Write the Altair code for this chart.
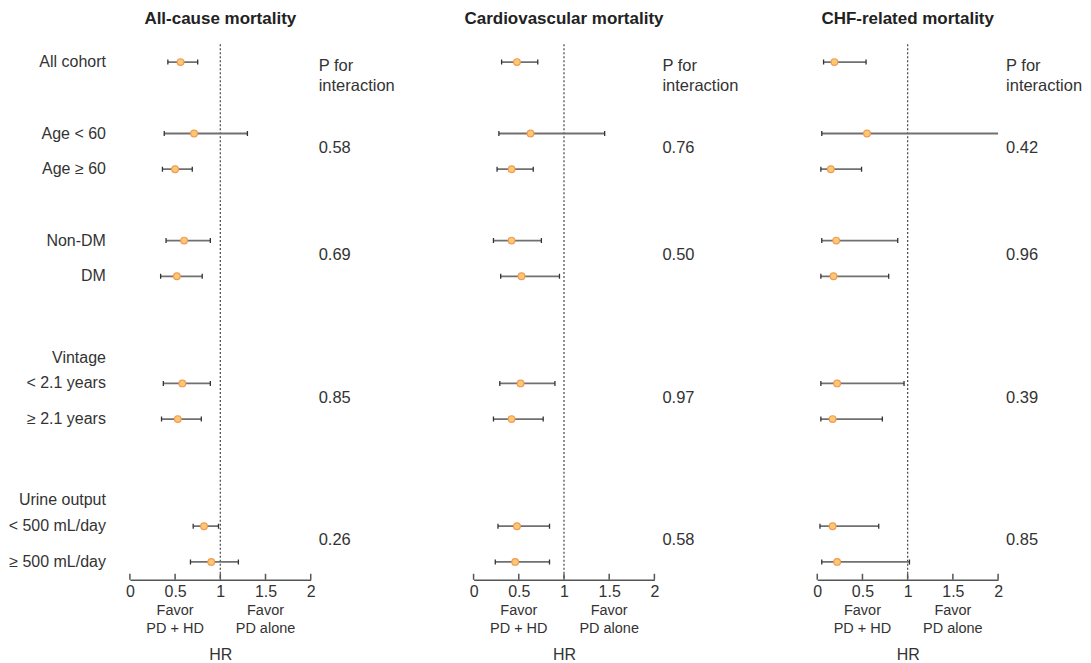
import altair as alt
import pandas as pd

FONT = "Liberation Sans"

titles = ["All-cause mortality", "Cardiovascular mortality", "CHF-related mortality"]

row_labels = ["All cohort", "Age < 60", "Age ≥ 60", "Non-DM", "DM",
              "< 2.1 years", "≥ 2.1 years", "< 500 mL/day", "≥ 500 mL/day"]
row_pos = [0, 2, 3, 5, 6, 9, 10, 13, 14]
header_labels = ["Vintage", "Urine output"]
header_pos = [8.3, 12.27]

hr_all = [0.56, 0.71, 0.50, 0.60, 0.52, 0.58, 0.53, 0.82, 0.90]
lo_all = [0.42, 0.38, 0.36, 0.40, 0.34, 0.37, 0.35, 0.70, 0.67]
hi_all = [0.75, 1.30, 0.69, 0.89, 0.80, 0.89, 0.79, 0.98, 1.20]

hr_cv = [0.48, 0.63, 0.42, 0.42, 0.53, 0.52, 0.42, 0.48, 0.46]
lo_cv = [0.31, 0.28, 0.26, 0.22, 0.30, 0.29, 0.22, 0.27, 0.24]
hi_cv = [0.71, 1.45, 0.66, 0.75, 0.95, 0.90, 0.77, 0.84, 0.84]

hr_chf = [0.19, 0.55, 0.15, 0.21, 0.18, 0.22, 0.17, 0.17, 0.22]
lo_chf = [0.07, 0.05, 0.04, 0.05, 0.04, 0.04, 0.04, 0.03, 0.05]
hi_chf = [0.54, 2.60, 0.49, 0.89, 0.79, 0.96, 0.72, 0.68, 1.02]

p_all = ["0.58", "0.69", "0.85", "0.26"]
p_cv = ["0.76", "0.50", "0.97", "0.58"]
p_chf = ["0.42", "0.96", "0.39", "0.85"]
p_pos = [2.4, 5.4, 9.4, 13.4]

x_ticks = [0, 0.5, 1, 1.5, 2]
favor_x = [0.5, 1.5]
favor_text = ["Favor\nPD + HD", "Favor\nPD alone"]

W, H = 181, 536
TXT = "#333333"


def panel(title, hr, lo, hi, pvals, first):
    df = pd.DataFrame({"label": row_labels, "pos": row_pos, "hr": hr, "lo": lo, "hi": hi})
    xs = alt.Scale(domain=[0, 2], nice=False, zero=False)
    ys = alt.Scale(domain=[-0.5, 14.5], reverse=True, nice=False, zero=False)
    x_axis = alt.Axis(values=x_ticks, format="~g", tickSize=0, labelPadding=4,
                      labelFontSize=16, labelColor=TXT, labelFlush=False,
                      domainColor="#555555", domainWidth=1.5, grid=False,
                      title="HR", titleFontSize=16, titleFontWeight="normal",
                      titleColor=TXT, titleY=75, titleBaseline="middle")
    base = alt.Chart(df)
    ci = base.mark_rule(color="#707070", strokeWidth=1.8, clip=True).encode(
        x=alt.X("lo:Q", scale=xs, axis=x_axis),
        x2="hi:Q",
        y=alt.Y("pos:Q", scale=ys, axis=None),
    )
    cap_lo = base.mark_rule(color="#333333", strokeWidth=1.3, clip=True,
                            yOffset=-2.5, y2Offset=2.5).encode(
        x="lo:Q", y="pos:Q", y2="pos:Q")
    cap_hi = base.mark_rule(color="#333333", strokeWidth=1.3, clip=True,
                            yOffset=-2.5, y2Offset=2.5).encode(
        x="hi:Q", y="pos:Q", y2="pos:Q")
    ref = alt.Chart(pd.DataFrame({"v": [1]})).mark_rule(
        strokeDash=[2, 2], color="#444444", strokeWidth=1.2).encode(x="v:Q")
    pts = base.mark_circle(size=45, fill="#FCC870", stroke="#F19A58",
                           strokeWidth=1.2, opacity=1).encode(x="hr:Q", y="pos:Q")
    ticks = alt.Chart(pd.DataFrame({"t": x_ticks})).mark_rule(
        color="#555555", strokeWidth=1.5, y2Offset=-6).encode(
        x="t:Q", y=alt.datum(14.5), y2=alt.datum(14.5))
    favor = alt.Chart(pd.DataFrame({"x": favor_x, "t": favor_text})).mark_text(
        lineBreak="\n", fontSize=14.5, lineHeight=17.7, baseline="middle",
        color=TXT).encode(x="x:Q", y=alt.datum(15.38), text="t:N")
    pdf = pd.DataFrame({"pos": p_pos, "p": pvals})
    ptxt = alt.Chart(pdf).mark_text(align="left", dx=8, fontSize=16.5,
                                    baseline="middle", color=TXT).encode(
        x=alt.datum(2), y="pos:Q", text="p:N")
    phead = alt.Chart(pd.DataFrame({"t": ["P for\ninteraction"]})).mark_text(
        align="left", dx=8, fontSize=16.5, lineBreak="\n", lineHeight=20,
        baseline="middle", color=TXT).encode(x=alt.datum(2), y=alt.datum(0.11), text="t:N")
    layers = [ref, ci, cap_lo, cap_hi, pts, ticks, favor, ptxt, phead]
    if first:
        ldf = pd.DataFrame({"label": row_labels + header_labels,
                            "pos": row_pos + header_pos})
        labels = alt.Chart(ldf).mark_text(align="right", dx=-24, fontSize=16,
                                          baseline="middle", color=TXT).encode(
            x=alt.datum(0), y="pos:Q", text="label:N")
        layers.append(labels)
    return alt.layer(*layers).properties(
        width=W, height=H,
        title=alt.TitleParams(title, fontSize=17, fontWeight="bold", color="#222222",
                              anchor="middle", baseline="middle", offset=8),
    )


p1 = panel(titles[0], hr_all, lo_all, hi_all, p_all, True)
p2 = panel(titles[1], hr_cv, lo_cv, hi_cv, p_cv, False)
p3 = panel(titles[2], hr_chf, lo_chf, hi_chf, p_chf, False)

chart = alt.hconcat(p1, p2, p3, spacing=163, bounds="flush").properties(
    padding={"left": 0, "top": 1, "right": 0, "bottom": 0}
).configure(font=FONT).configure_view(stroke=None)

chart.save("out.html", embed_options={"renderer": "svg", "actions": False})
